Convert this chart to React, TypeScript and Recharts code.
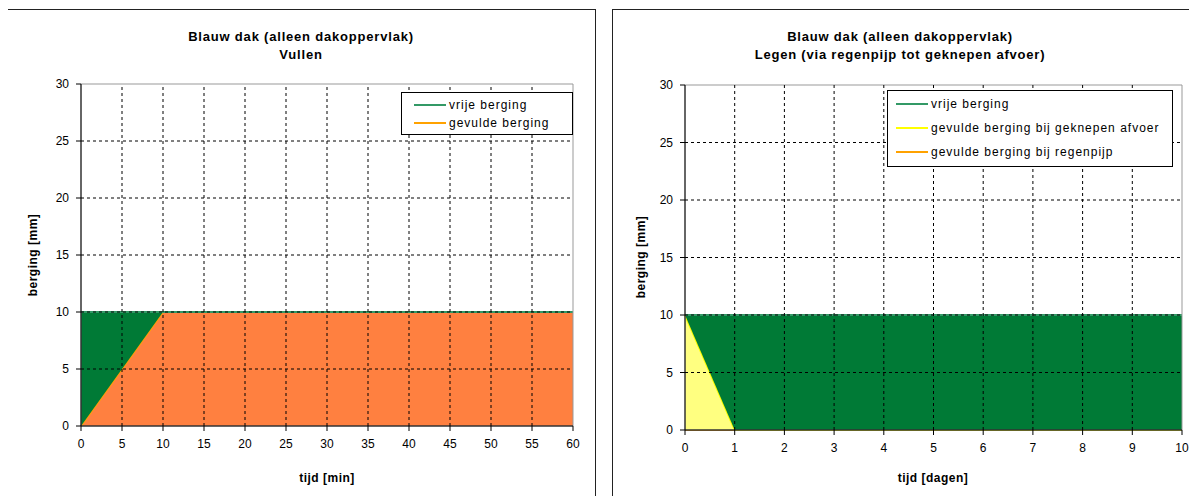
import { AreaChart, Area, XAxis, YAxis, ReferenceLine, ReferenceArea } from "recharts";

// Vullen (left chart), tijd in minuten
const vullenTijd = [0, 10, 60];
const vullenGevuld = [0, 10, 10];
const vullenVrij = [10, 0, 0];
const vullenTicks = [0, 5, 10, 15, 20, 25, 30, 35, 40, 45, 50, 55, 60];

// Legen (right chart), tijd in dagen
const legenTijd = [0, 1, 10];
const legenRegenpijp = [0, 0, 0];
const legenGeknepen = [10, 0, 0];
const legenVrij = [0, 10, 10];
const legenTicks = [0, 1, 2, 3, 4, 5, 6, 7, 8, 9, 10];

const bergingTicks = [0, 5, 10, 15, 20, 25, 30];

const vullenData = vullenTijd.map((t, i) => ({
  tijd: t,
  gevuld: vullenGevuld[i],
  vrij: vullenVrij[i],
}));

const legenData = legenTijd.map((t, i) => ({
  tijd: t,
  regenpijp: legenRegenpijp[i],
  geknepen: legenGeknepen[i],
  vrij: legenVrij[i],
}));

const FONT = "'Liberation Sans', Arial, sans-serif";
const GREEN_LINE = "#339966";
const GREEN_FILL = "#007A36";
const ORANGE_LINE = "#FFA200";
const ORANGE_FILL = "#FF8040";
const YELLOW_LINE = "#FFFF00";
const YELLOW_FILL = "#FFFF80";

const tickStyle = { fill: "#000", fontSize: 12, fontFamily: FONT };

function LegendBox({ items, style, rowH, fontSize }: any) {
  return (
    <div
      style={{
        position: "absolute",
        border: "1px solid #000",
        background: "#fff",
        padding: "3px 0 0 12px",
        boxSizing: "border-box",
        fontFamily: FONT,
        fontSize,
        letterSpacing: 1,
        ...style,
      }}
    >
      {items.map((it: any) => (
        <div key={it.name} style={{ height: rowH, display: "flex", alignItems: "center", whiteSpace: "nowrap" }}>
          <span style={{ flex: "0 0 32px", height: 2, background: it.color, marginRight: 3 }} />
          {it.name}
        </div>
      ))}
    </div>
  );
}

function Label({ text, style, rotate, size = 12, spacing = 0.5 }: any) {
  return (
    <div
      style={{
        position: "absolute",
        fontFamily: FONT,
        fontWeight: "bold",
        fontSize: size,
        letterSpacing: spacing,
        whiteSpace: "nowrap",
        transform: rotate ? "translate(-50%, -50%) rotate(-90deg)" : "translateX(-50%)",
        ...style,
      }}
    >
      {text}
    </div>
  );
}

function gridLines(xTicks: number[], yTicks: number[]) {
  return [
    ...xTicks.slice(1, -1).map((t) => (
      <ReferenceLine key={"x" + t} x={t} stroke="#000" strokeDasharray="3 3" />
    )),
    ...yTicks.slice(1, -1).map((t) => (
      <ReferenceLine key={"y" + t} y={t} stroke="#000" strokeDasharray="3 3" />
    )),
  ];
}

export default function App() {
  return (
    <div style={{ position: "relative", width: 1197, height: 504, margin: -8, overflow: "hidden", background: "#fff" }}>
      {/* chart frames */}
      <div style={{ position: "absolute", left: 7, top: 9, width: 589, height: 520, border: "1px solid #222", boxSizing: "border-box" }} />
      <div style={{ position: "absolute", left: 612, top: 9, width: 620, height: 520, border: "1px solid #222", boxSizing: "border-box" }} />

      {/* left: Vullen */}
      <AreaChart
        width={600}
        height={504}
        data={vullenData}
        margin={{ top: 84, right: 27, bottom: 48, left: 21 }}
        style={{ position: "absolute", left: 0, top: 0 }}
      >
        <XAxis
          dataKey="tijd"
          type="number"
          domain={[0, 60]}
          ticks={vullenTicks}
          tick={tickStyle}
          tickSize={5}
          tickMargin={8}
          height={30}
          stroke="#000"
          interval={0}
        />
        <YAxis
          type="number"
          domain={[0, 30]}
          ticks={bergingTicks}
          tick={tickStyle}
          tickSize={5}
          tickMargin={7}
          width={60}
          stroke="#000"
          interval={0}
        />
        <Area type="linear" dataKey="gevuld" stackId="a" stroke={ORANGE_LINE} strokeWidth={2} fill={ORANGE_FILL} fillOpacity={1} isAnimationActive={false} />
        <Area type="linear" dataKey="vrij" stackId="a" stroke={GREEN_LINE} strokeWidth={2} fill={GREEN_FILL} fillOpacity={1} isAnimationActive={false} />
        {gridLines(vullenTicks, bergingTicks)}
        <ReferenceArea x1={0} x2={60} y1={0} y2={30} fill="none" stroke="#999" strokeWidth={1} />
      </AreaChart>

      {/* right: Legen */}
      <AreaChart
        width={592}
        height={504}
        data={legenData}
        margin={{ top: 85, right: 15, bottom: 44, left: 20 }}
        style={{ position: "absolute", left: 605, top: 0 }}
      >
        <XAxis
          dataKey="tijd"
          type="number"
          domain={[0, 10]}
          ticks={legenTicks}
          tick={tickStyle}
          tickSize={5}
          tickMargin={8}
          height={30}
          stroke="#000"
          interval={0}
        />
        <YAxis
          type="number"
          domain={[0, 30]}
          ticks={bergingTicks}
          tick={tickStyle}
          tickSize={5}
          tickMargin={7}
          width={60}
          stroke="#000"
          interval={0}
        />
        <Area type="linear" dataKey="regenpijp" stackId="a" stroke={ORANGE_LINE} strokeWidth={2} fill={ORANGE_FILL} fillOpacity={1} isAnimationActive={false} />
        <Area type="linear" dataKey="geknepen" stackId="a" stroke={YELLOW_LINE} strokeWidth={2} fill={YELLOW_FILL} fillOpacity={1} isAnimationActive={false} />
        <Area type="linear" dataKey="vrij" stackId="a" stroke={GREEN_LINE} strokeWidth={2} fill={GREEN_FILL} fillOpacity={1} isAnimationActive={false} />
        {gridLines(legenTicks, bergingTicks)}
        <ReferenceArea x1={0} x2={10} y1={0} y2={30} fill="none" stroke="#999" strokeWidth={1} />
      </AreaChart>

      {/* titles */}
      <Label text="Blauw dak (alleen dakoppervlak)" size={13} spacing={0.8} style={{ left: 301, top: 29 }} />
      <Label text="Vullen" size={13} spacing={0.8} style={{ left: 301, top: 47 }} />
      <Label text="Blauw dak (alleen dakoppervlak)" size={13} spacing={0.8} style={{ left: 900, top: 29 }} />
      <Label text="Legen (via regenpijp tot geknepen afvoer)" size={13} spacing={0.8} style={{ left: 900, top: 47 }} />

      {/* axis titles */}
      <Label text="tijd [min]" style={{ left: 327, top: 471 }} />
      <Label text="tijd [dagen]" style={{ left: 933, top: 471 }} />
      <Label text="berging [mm]" rotate style={{ left: 33, top: 255 }} />
      <Label text="berging [mm]" rotate style={{ left: 641, top: 257 }} />

      <LegendBox
        style={{ left: 401, top: 92, width: 172, height: 43 }}
        rowH={18}
        fontSize={12}
        items={[
          { name: "vrije berging", color: GREEN_LINE },
          { name: "gevulde berging", color: ORANGE_LINE },
        ]}
      />
      <LegendBox
        style={{ left: 887, top: 90, width: 286, height: 77, padding: "1px 0 0 8px" }}
        rowH={24}
        fontSize={12}
        items={[
          { name: "vrije berging", color: GREEN_LINE },
          { name: "gevulde berging bij geknepen afvoer", color: YELLOW_LINE },
          { name: "gevulde berging bij regenpijp", color: ORANGE_LINE },
        ]}
      />
    </div>
  );
}
